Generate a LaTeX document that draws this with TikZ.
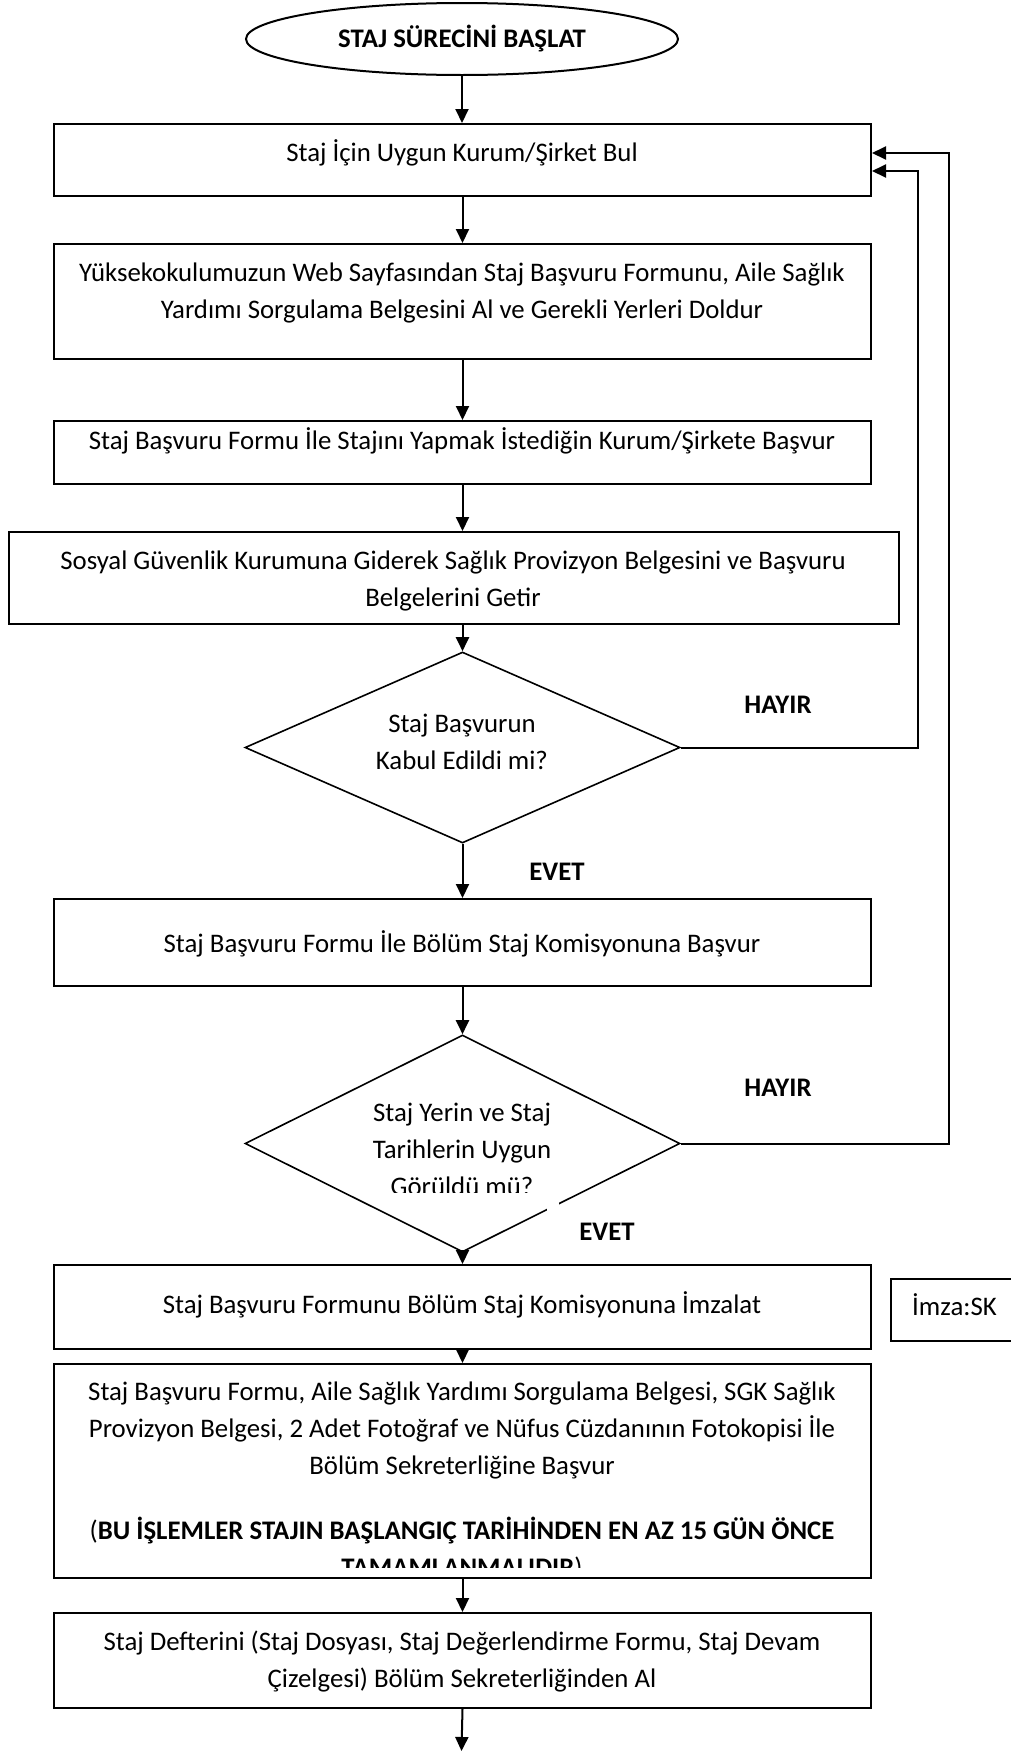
\documentclass[tikz,border=0pt]{standalone}
\usepackage{fontspec}
\setmainfont{Carlito}
\usetikzlibrary{arrows.meta,shapes.geometric}
\begin{document}
\begin{tikzpicture}[x=1pt,y=-1pt,
  txt/.style={font=\fontsize{26.8}{37}\selectfont, align=center, inner sep=0pt},
  lbl/.style={font=\fontsize{26.8}{30}\selectfont\bfseries, inner sep=0pt},
  box/.style={draw, line width=2pt, rectangle, inner sep=0pt, anchor=north west},
  arr/.style={line width=2pt, -{Triangle[width=13pt,length=14pt]}},
  term/.style={draw, ellipse, line width=2pt, inner sep=0pt},
  decision/.style={draw, diamond, line width=1.6pt, inner sep=0pt}]

\clip (0,0) rectangle (1011,1751);
\fill[white] (0,0) rectangle (1011,1751);

% shapes
\node[term, minimum width=432pt, minimum height=72pt] (start) at (462,39) {};
\node[box, minimum width=817pt, minimum height=72pt] (b1) at (53,123) {};
\node[box, minimum width=817pt, minimum height=115pt] (b2) at (53,243) {};
\node[box, minimum width=817pt, minimum height=63pt] (b3) at (53,420) {};
\node[box, minimum width=890pt, minimum height=92pt] (b4) at (8,531) {};
\node[decision, minimum width=435pt, minimum height=191pt] (d1) at (462.5,747.5) {};
\node[box, minimum width=817pt, minimum height=87pt] (b5) at (53,898) {};
\node[decision, minimum width=435pt, minimum height=217pt] (d2) at (462.5,1143.5) {};
\node[box, minimum width=817pt, minimum height=84pt] (b6) at (53,1264) {};
\node[box, minimum width=817pt, minimum height=214pt] (b7) at (53,1363) {};
\node[box, minimum width=817pt, minimum height=95pt] (b8) at (53,1612) {};
\node[box, minimum width=150pt, minimum height=62pt] (imza) at (890,1278) {};

% texts
\node[lbl] (t0) at (462,39) {STAJ SÜRECİNİ BAŞLAT};
\node[txt] (t1) at (462,153) {Staj İçin Uygun Kurum/Şirket Bul};
\node[txt] (t2) at (462,293) {Yüksekokulumuzun Web Sayfasından Staj Başvuru Formunu, Aile Sağlık\\Yardımı Sorgulama Belgesini Al ve Gerekli Yerleri Doldur};
\node[txt] (t3) at (462,441) {Staj Başvuru Formu İle Stajını Yapmak İstediğin Kurum/Şirkete Başvur};
\node[txt] (t4) at (453,580.5) {Sosyal Güvenlik Kurumuna Giderek Sağlık Provizyon Belgesini ve Başvuru\\Belgelerini Getir};
\node[txt] (td1) at (462,741.5) {Staj Başvurun\\Kabul Edildi mi?};
\node[txt] (t5) at (462,944) {Staj Başvuru Formu İle Bölüm Staj Komisyonuna Başvur};
\begin{scope}
  \clip (250,1080) rectangle (680,1192);
  \node[txt] (td2) at (462,1149) {Staj Yerin ve Staj\\Tarihlerin Uygun\\Görüldü mü?};
\end{scope}
\fill[white] (547,1200) rectangle (559,1214);
\node[txt] (t6) at (462,1305) {Staj Başvuru Formunu Bölüm Staj Komisyonuna İmzalat};
\begin{scope}
  \clip (56,1366) rectangle (868,1567);
  \node[txt, anchor=north] (t7) at (462,1382) {Staj Başvuru Formu, Aile Sağlık Yardımı Sorgulama Belgesi, SGK Sağlık\\Provizyon Belgesi, 2 Adet Fotoğraf ve Nüfus Cüzdanının Fotokopisi İle\\Bölüm Sekreterliğine Başvur\\[28pt](\textbf{BU İŞLEMLER STAJIN BAŞLANGIÇ TARİHİNDEN EN AZ 15 GÜN ÖNCE}\\\textbf{TAMAMLANMALIDIR})};
\end{scope}
\node[txt] (t8) at (462,1661) {Staj Defterini (Staj Dosyası, Staj Değerlendirme Formu, Staj Devam\\Çizelgesi) Bölüm Sekreterliğinden Al};
\node[txt, anchor=west] (timza) at (912,1305) {İmza:SK};

% branch labels
\node[lbl] (h1) at (778,705) {HAYIR};
\node[lbl] (h2) at (778,1088) {HAYIR};
\node[lbl] (e1) at (557,872) {EVET};
\node[lbl] (e2) at (607,1232) {EVET};

% main flow
\coordinate (bottom) at (461.5,1751);
\draw[arr] (start.south) -- (start.south |- b1.north);
\draw[arr] (b1.south) -- (b2.north);
\draw[arr] (b2.south) -- (b3.north);
\draw[arr] (b3.south) -- (b3.south |- b4.north);
\draw[arr] (d1.north |- b4.south) -- (d1.north);
\draw[arr] (d1.south) -- (b5.north);
\draw[arr] (b5.south) -- (d2.north);
\draw[arr] (d2.south) -- (b6.north);
\draw[arr] (b6.south) -- (b7.north);
\draw[arr] (b7.south) -- (b8.north);
\draw[arr] (b8.south) -- (bottom);

% rejection loops back to the first step
\coordinate (r1) at (918,747.5);
\coordinate (r2) at (949,1143.5);
\coordinate (in1) at (872,171);
\coordinate (in2) at (872,153);
\draw[arr] (d1.east) -- (r1) |- (in1);
\draw[arr] (d2.east) -- (r2) |- (in2);
\end{tikzpicture}
\end{document}
